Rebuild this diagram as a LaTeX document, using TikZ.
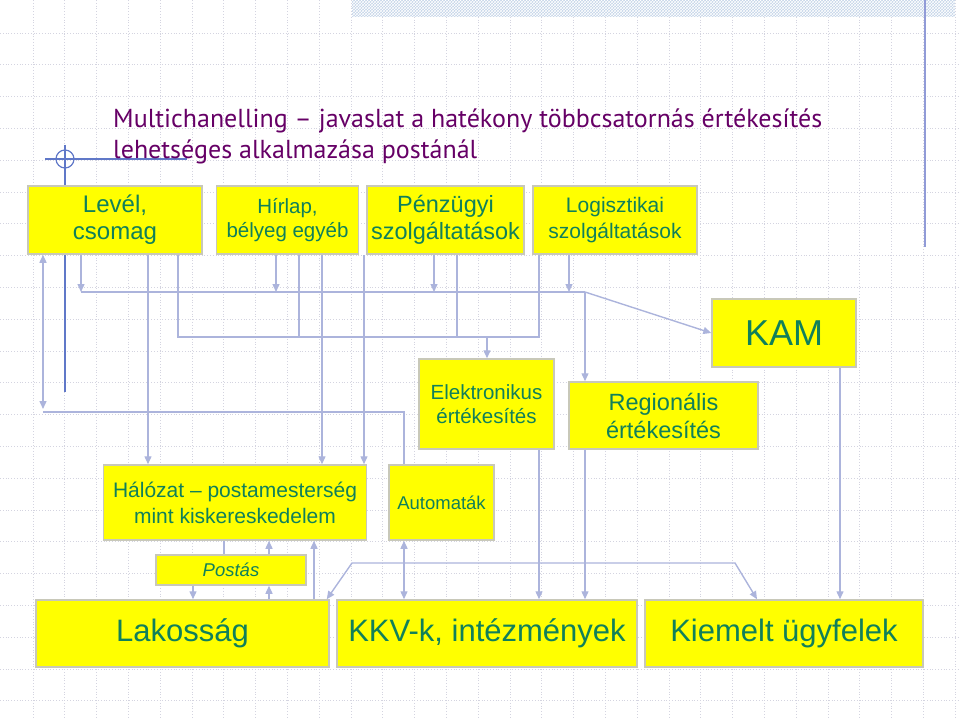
\documentclass[tikz,border=0pt]{standalone}
\usepackage{fontspec}
\setmainfont{Liberation Sans}
\newfontfamily\titlefont{PT Sans}
\usetikzlibrary{arrows.meta,patterns}

\definecolor{boxfill}{RGB}{255,255,0}
\definecolor{boxline}{RGB}{200,200,185}
\definecolor{boxtext}{RGB}{16,128,90}
\definecolor{linkcol}{RGB}{172,180,220}
\definecolor{gridcol}{RGB}{212,212,224}
\definecolor{titlecol}{RGB}{102,0,102}
\definecolor{decocol}{RGB}{96,120,200}
\definecolor{bandcol}{RGB}{196,212,232}
\definecolor{edgecol}{RGB}{145,155,215}

\tikzset{
  box/.style={draw=boxline, line width=1.5pt, fill=boxfill, text=boxtext,
    align=center, inner sep=0pt},
  link/.style={draw=linkcol, line width=1.4pt, arrows={-Triangle[length=8pt,width=7pt]}},
  plainlink/.style={draw=linkcol, line width=1.4pt},
  dlink/.style={draw=linkcol, line width=1.4pt,
    arrows={Triangle[length=8pt,width=7pt]-Triangle[length=8pt,width=7pt]}},
}

\newcommand{\fs}[2]{\fontsize{#1}{#2}\selectfont}

\begin{document}
\begin{tikzpicture}[x=1pt, y=-1pt]
    \useasboundingbox (0,0) rectangle (960,719);
    % background grid
    \foreach \i in {0,...,29}
        \draw[gridcol, line width=0.8pt, dotted] (33+31.8*\i,0) -- (33+31.8*\i,719);
    \foreach \i in {0,...,21}
        \draw[gridcol, line width=0.8pt, dotted] (0,33+31.8*\i) -- (960,33+31.8*\i);
    % template decoration
    \fill[bandcol] (352,0) rectangle (955,17);
    \fill[pattern=crosshatch, pattern color=white] (352,0) rectangle (955,17);
    \draw[edgecol, line width=1.5pt] (925,0) -- (925,247);
    \draw[decocol, line width=1.2pt] (65,145) -- (65,392);
    \draw[decocol, line width=1.2pt] (45,159) -- (187,159);
    \draw[decocol, line width=1.2pt] (65,159) circle (9);

    % title
    \node[anchor=north west, align=left, text=titlecol, inner sep=0pt,
          font=\titlefont\fs{26}{31}] (title) at (113,109)
        {Multichanelling – javaslat a hatékony többcsatornás értékesítés\\
         lehetséges alkalmazása postánál};

    % boxes
    \node[box, minimum width=174, minimum height=68, font=\fs{24}{27}] (level) at (115,220) {Levél,\\csomag};
    \node[box, minimum width=142, minimum height=68, font=\fs{20.5}{24}] (hirlap) at (287.5,220) {Hírlap,\\bélyeg egyéb};
    \node[box, minimum width=157, minimum height=68, font=\fs{23.5}{27}] (penz) at (445.5,220) {Pénzügyi\\szolgáltatások};
    \node[box, minimum width=164, minimum height=68, font=\fs{21}{26}] (logi) at (615,220) {Logisztikai\\szolgáltatások};
    \node[box, minimum width=144, minimum height=68, font=\fs{36}{40}] (kam) at (784,333) {KAM};
    \node[box, minimum width=135, minimum height=90, font=\fs{20.5}{24}] (elektr) at (486.5,404) {Elektronikus\\értékesítés};
    \node[box, minimum width=189, minimum height=67, font=\fs{23.5}{28}] (regio) at (663.5,415.5) {Regionális\\értékesítés};
    \node[box, minimum width=263, minimum height=75, font=\fs{21}{26}] (halozat) at (235,502.5) {Hálózat – postamesterség\\mint kiskereskedelem};
    \node[box, minimum width=105, minimum height=75, font=\fs{18.5}{22}] (auto) at (441.5,502.5) {Automaták};
    \node[box, minimum width=150, minimum height=30, font=\fs{18.5}{22}\itshape] (postas) at (231,570) {Postás};
    \node[box, minimum width=293, minimum height=67, font=\fs{31}{36}] (lakos) at (182.5,633.5) {Lakosság};
    \node[box, minimum width=300, minimum height=67, font=\fs{31}{36}] (kkv) at (487,633.5) {KKV-k, intézmények};
    \node[box, minimum width=278, minimum height=67, font=\fs{31}{36}] (kiemelt) at (784,633.5) {Kiemelt ügyfelek};

    % bus coordinates
    \coordinate (busa-w) at (81,292);
    \coordinate (busa-e) at (585,292);
    \coordinate (busb-w) at (178,337);
    \coordinate (busb-e) at (539,337);
    \coordinate (busc-w) at (43,412);
    \coordinate (bend-l) at (352,563);
    \coordinate (bend-r) at (735,563);

    % first bus: to KAM and regional sales
    \draw[link] (level.south -| busa-w) -- (busa-w);
    \draw[link] (hirlap.south -| 276,0) -- (276,292);
    \draw[link] (penz.south -| 434,0) -- (434,292);
    \draw[link] (logi.south -| 569,0) -- (569,292);
    \draw[plainlink] (busa-w) -- (busa-e);
    \draw[link] (busa-e) -- (kam.west);
    \draw[link] (busa-e) -- (regio.north -| busa-e);

    % second bus: to electronic sales
    \draw[plainlink] (level.south -| busb-w) -- (busb-w) -- (busb-e) -- (logi.south -| busb-e);
    \draw[plainlink] (hirlap.south -| 299,0) -- (299,337);
    \draw[plainlink] (penz.south -| 457,0) -- (457,337);
    \draw[link] (487,337) -- (elektr.north -| 487,0);

    % straight down to the network
    \draw[link] (level.south -| 148,0) -- (halozat.north -| 148,0);
    \draw[link] (hirlap.south -| 322,0) -- (halozat.north -| 322,0);
    \draw[link] (penz.south -| 364,0) -- (halozat.north -| 364,0);

    % letters and automats
    \draw[dlink] (level.south -| busc-w) -- (43,409);
    \draw[plainlink] (busc-w) -| (auto.north -| 404,0);
    \draw[dlink] (auto.south -| 404,0) -- (kkv.north -| 404,0);

    % channels to customers
    \draw[link] (elektr.south -| busb-e) -- (kkv.north -| busb-e);
    \draw[link] (regio.south -| busa-e) -- (kkv.north -| busa-e);
    \draw[link] (kam.south -| 840,0) -- (kiemelt.north -| 840,0);

    % postman
    \draw[plainlink] (halozat.south -| 224,0) -- (postas.north -| 224,0);
    \draw[link] (postas.north -| 269,0) -- (halozat.south -| 269,0);
    \draw[link] (lakos.north -| 314,0) -- (halozat.south -| 314,0);
    \draw[link] (postas.south -| 193,0) -- (lakos.north -| 193,0);
    \draw[link] (lakos.north -| 269,0) -- (postas.south -| 269,0);

    % population to key accounts
    \draw[dlink] ([xshift=-3pt]lakos.north east) -- (bend-l) -- (bend-r) -- (kiemelt.north -| 757,0);
\end{tikzpicture}
\end{document}
